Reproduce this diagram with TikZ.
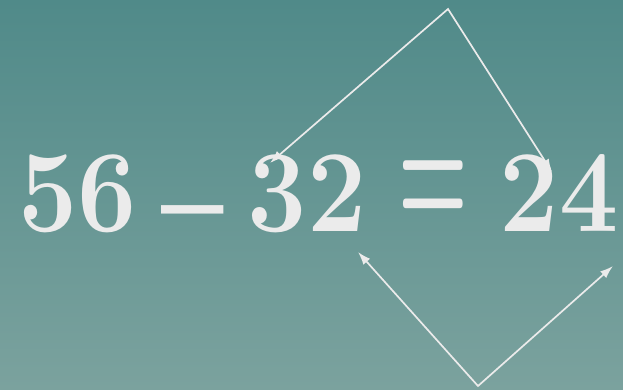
\documentclass[tikz,border=0pt]{standalone}
\usepackage{fontspec}
\usetikzlibrary{arrows.meta}
\definecolor{bgtop}{RGB}{80,138,137}
\definecolor{bgbot}{RGB}{123,162,158}
\definecolor{ink}{RGB}{235,235,235}
\begin{document}
\begin{tikzpicture}[x=1pt,y=-1pt,
  num/.style={text=ink,inner sep=0pt,font=\fontsize{117}{117}\selectfont\bfseries},
  digits/.style={num,xscale=0.9,transform shape,anchor=base},
  conn/.style={draw=ink,line width=1.7pt,line join=miter,{Latex[length=13pt,width=9pt]}-{Latex[length=13pt,width=9pt]}}]
\shade[top color=bgtop,bottom color=bgbot] (0,0) rectangle (623,389);
\useasboundingbox (0,0) rectangle (623,389);
% connectors
\coordinate (t1) at (448,9);
\coordinate (e3) at (270,163);
\coordinate (e2) at (552,172);
\coordinate (b1) at (478,386);
\coordinate (e32) at (358,252);
\coordinate (e24) at (613,266);
% text
\node[digits] (n56) at (77.5,231) {56};
\node[num,anchor=center,xscale=0.95,yscale=2.2,transform shape] (nminus) at (192.5,243) {–};
\node[digits] (n32) at (307,231) {32};
\node[num,anchor=center,xscale=0.68,yscale=1.5,transform shape] (neq) at (433.4,194.5) {=};
\node[digits] (n24) at (559,231) {24};
\draw[conn] (e3) -- (t1) -- (e2);
\draw[conn] (e32) -- (b1) -- (e24);
\end{tikzpicture}
\end{document}
